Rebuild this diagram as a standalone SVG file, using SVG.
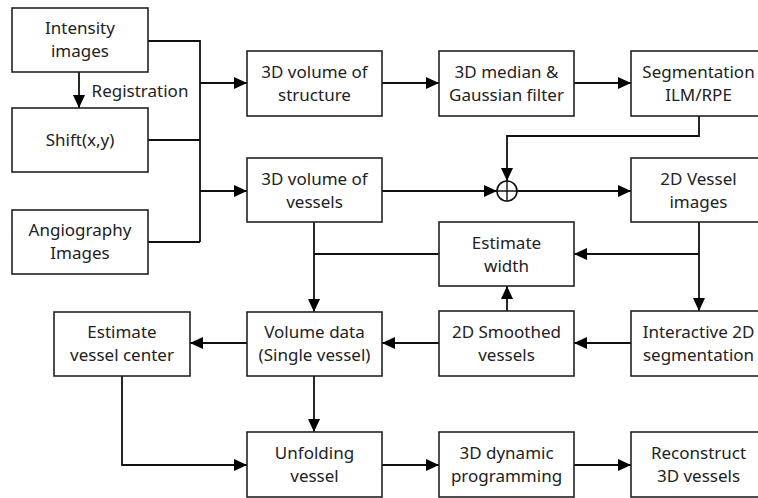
<svg xmlns="http://www.w3.org/2000/svg" width="758" height="498" viewBox="0 0 758 498">
<style>
rect.box{fill:#fff;stroke:#222;stroke-width:1.6}
text{font-family:"Noto Sans","Open Sans",sans-serif;font-size:17px;fill:#222;text-anchor:middle}
.c{fill:none;stroke:#111;stroke-width:1.8}
</style>
<defs>
<marker id="ah" markerUnits="userSpaceOnUse" markerWidth="14" markerHeight="12" refX="13" refY="6" orient="auto">
<path d="M0,0 L13,6 L0,12 Z" fill="#000"/>
</marker>
</defs>
<rect width="758" height="498" fill="#fff"/>
<g id="connectors">
<path class="c" d="M148,41 H200 V242 M148,140 H200 M148,242 H200"/>
<path class="c" d="M200,83 H247" marker-end="url(#ah)"/>
<path class="c" d="M200,191 H247" marker-end="url(#ah)"/>
<path class="c" d="M79,72 V108" marker-end="url(#ah)"/>
<path class="c" d="M382,83 H439" marker-end="url(#ah)"/>
<path class="c" d="M574,83 H631" marker-end="url(#ah)"/>
<path class="c" d="M699,116 V136 H507 V181" marker-end="url(#ah)"/>
<path class="c" d="M382,191 H497" marker-end="url(#ah)"/>
<path class="c" d="M517,191 H631" marker-end="url(#ah)"/>
<path class="c" d="M699,222 V311" marker-end="url(#ah)"/>
<path class="c" d="M699,254 H574" marker-end="url(#ah)"/>
<path class="c" d="M439,254 H314"/>
<path class="c" d="M314,222 V312" marker-end="url(#ah)"/>
<path class="c" d="M507,311 V286" marker-end="url(#ah)"/>
<path class="c" d="M631,343 H574" marker-end="url(#ah)"/>
<path class="c" d="M439,343 H382" marker-end="url(#ah)"/>
<path class="c" d="M247,343 H190" marker-end="url(#ah)"/>
<path class="c" d="M314,376 V432" marker-end="url(#ah)"/>
<path class="c" d="M122,376 V465 H247" marker-end="url(#ah)"/>
<path class="c" d="M382,465 H439" marker-end="url(#ah)"/>
<path class="c" d="M574,465 H631" marker-end="url(#ah)"/>
<text x="140" y="97">Registration</text>
</g>
<g id="sum">
<circle cx="507" cy="191" r="10" fill="#fff" stroke="#111" stroke-width="1.6"/>
<path d="M497,191 H517 M507,181 V201" stroke="#111" stroke-width="1.4"/>
</g>
<g id="intensity"><rect class="box" x="12" y="8" width="136" height="64"/><text x="80" y="34">Intensity</text><text x="80" y="57">images</text></g>
<g id="shift"><rect class="box" x="12" y="108" width="136" height="64"/><text x="80" y="146">Shift(x,y)</text></g>
<g id="angio"><rect class="box" x="12" y="210" width="136" height="64"/><text x="80" y="236">Angiography</text><text x="80" y="259">Images</text></g>
<g id="vol-structure"><rect class="box" x="247" y="51" width="135" height="65"/><text x="314.5" y="78">3D volume of</text><text x="314.5" y="101">structure</text></g>
<g id="median"><rect class="box" x="439" y="51" width="135" height="65"/><text x="506.5" y="78">3D median &amp;</text><text x="506.5" y="101">Gaussian filter</text></g>
<g id="segmentation"><rect class="box" x="631" y="51" width="135" height="65"/><text x="698.5" y="78">Segmentation</text><text x="698.5" y="101">ILM/RPE</text></g>
<g id="vol-vessels"><rect class="box" x="247" y="158" width="135" height="64"/><text x="314.5" y="185">3D volume of</text><text x="314.5" y="208">vessels</text></g>
<g id="vessel-images"><rect class="box" x="631" y="158" width="135" height="64"/><text x="698.5" y="185">2D Vessel</text><text x="698.5" y="208">images</text></g>
<g id="estimate-width"><rect class="box" x="439" y="222" width="135" height="64"/><text x="506.5" y="249">Estimate</text><text x="506.5" y="272">width</text></g>
<g id="est-center"><rect class="box" x="54" y="312" width="136" height="64"/><text x="122" y="338">Estimate</text><text x="122" y="361">vessel center</text></g>
<g id="volume-data"><rect class="box" x="247" y="312" width="135" height="64"/><text x="314.5" y="338">Volume data</text><text x="314.5" y="361">(Single vessel)</text></g>
<g id="smoothed"><rect class="box" x="439" y="311" width="135" height="65"/><text x="506.5" y="338">2D Smoothed</text><text x="506.5" y="361">vessels</text></g>
<g id="interactive"><rect class="box" x="631" y="311" width="135" height="65"/><text x="698.5" y="338">Interactive 2D</text><text x="698.5" y="361">segmentation</text></g>
<g id="unfolding"><rect class="box" x="247" y="432" width="135" height="65"/><text x="314.5" y="459">Unfolding</text><text x="314.5" y="482">vessel</text></g>
<g id="dynamic"><rect class="box" x="439" y="432" width="135" height="65"/><text x="506.5" y="459">3D dynamic</text><text x="506.5" y="482">programming</text></g>
<g id="reconstruct"><rect class="box" x="631" y="432" width="135" height="65"/><text x="698.5" y="459">Reconstruct</text><text x="698.5" y="482">3D vessels</text></g>
</svg>
